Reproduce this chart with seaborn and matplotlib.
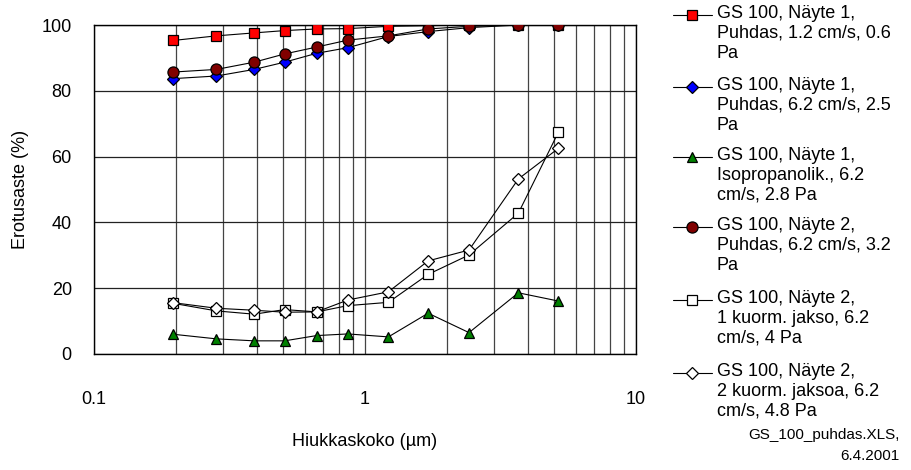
import numpy as np
import matplotlib
matplotlib.use("Agg")
import matplotlib.pyplot as plt
from matplotlib.lines import Line2D
from matplotlib.ticker import LogLocator, NullFormatter, FixedLocator
import seaborn as sns

# hiukkaskoko (um)
koko = [0.196, 0.283, 0.39, 0.505, 0.663, 0.864, 1.22, 1.71, 2.42, 3.68, 5.17]

n1_puhdas_12 = [95.3, 96.7, 97.6, 98.3, 98.8, 98.9, 99.6, 99.8, 100.0, 100.0, 100.0]
n1_puhdas_62 = [83.7, 84.5, 86.5, 88.7, 91.4, 93.1, 96.5, 98.0, 99.2, 100.0, 100.0]
n1_isoprop = [6.0, 4.6, 4.0, 4.0, 5.6, 6.1, 5.2, 12.4, 6.5, 18.6, 16.1]
n2_puhdas = [85.7, 86.5, 88.7, 91.2, 93.3, 95.4, 96.7, 98.8, 99.6, 100.0, 100.0]
n2_1jakso = [15.4, 13.1, 12.1, 13.5, 12.8, 14.7, 15.7, 24.2, 30.1, 42.8, 67.4]
n2_2jaksoa = [15.6, 13.9, 13.3, 12.7, 12.8, 16.4, 18.9, 28.3, 31.6, 53.2, 62.5]

labels = [
    "GS 100, Näyte 1,\nPuhdas, 1.2 cm/s, 0.6\nPa",
    "GS 100, Näyte 1,\nPuhdas, 6.2 cm/s, 2.5\nPa",
    "GS 100, Näyte 1,\nIsopropanolik., 6.2\ncm/s, 2.8 Pa",
    "GS 100, Näyte 2,\nPuhdas, 6.2 cm/s, 3.2\nPa",
    "GS 100, Näyte 2,\n1 kuorm. jakso, 6.2\ncm/s, 4 Pa",
    "GS 100, Näyte 2,\n2 kuorm. jaksoa, 6.2\ncm/s, 4.8 Pa",
]
sarjat = [n1_puhdas_12, n1_puhdas_62, n1_isoprop, n2_puhdas, n2_1jakso, n2_2jaksoa]
merkit = ["s", "D", "^", "o", "s", "D"]
varit = ["#ff0000", "#0000ff", "#008000", "#800000", "white", "white"]
koot = [7, 6.3, 7.5, 8, 7.5, 6.3]

sns.set_style("white")
plt.rcParams["font.family"] = ["Liberation Sans", "DejaVu Sans"]
plt.rcParams["text.color"] = "black"
plt.rcParams["axes.labelcolor"] = "black"
plt.rcParams["xtick.color"] = "black"
plt.rcParams["ytick.color"] = "black"

fig = plt.figure(figsize=(9.12, 4.70), dpi=100)
ax = fig.add_axes([94 / 912, 1 - 354 / 470, (636 - 94) / 912, (354 - 25) / 470])

for y, m, c, s in zip(sarjat, merkit, varit, koot):
    sns.lineplot(x=koko, y=y, ax=ax, color="black", linewidth=0.8,
                 marker=m, markersize=s, markerfacecolor=c,
                 markeredgecolor="black", markeredgewidth=0.9, zorder=3)

ax.set_xscale("log")
ax.set_xlim(0.1, 10)
ax.set_ylim(0, 100)
ax.set_xticks([0.1, 1, 10])
ax.set_xticklabels(["0.1", "1", "10"])
ax.xaxis.set_minor_locator(LogLocator(base=10, subs=np.arange(2, 10)))
ax.xaxis.set_minor_formatter(NullFormatter())
ax.set_yticks([0, 20, 40, 60, 80, 100])
ax.yaxis.set_minor_locator(FixedLocator([10, 30, 50, 70, 90]))

ax.grid(True, which="both", axis="x", color="#444444", linewidth=0.9)
ax.grid(True, which="major", axis="y", color="#222222", linewidth=0.9)
ax.set_axisbelow(True)

for sp in ax.spines.values():
    sp.set_color("black")
    sp.set_linewidth(1.0)

ax.tick_params(axis="x", which="major", direction="out", length=6, width=1,
               color="black", labelcolor="black", pad=21, labelsize=13)
ax.tick_params(axis="x", which="minor", length=0)
ax.tick_params(axis="y", which="major", direction="in", length=4, width=1,
               color="black", labelcolor="black", pad=16, labelsize=13)
ax.tick_params(axis="y", which="minor", direction="in", length=4, width=1,
               color="black")

ax.set_xlabel("Hiukkaskoko (µm)", fontsize=13, labelpad=18, color="black")
ax.set_ylabel("Erotusaste (%)", fontsize=13, labelpad=9, color="black")

# selite (legend), merkki ensimmäisen rivin kohdalla
rivit_y = [15, 87, 157, 227, 300, 373]
for yy, lab, m, c, s in zip(rivit_y, labels, merkit, varit, koot):
    yf = 1 - yy / 470
    fig.add_artist(Line2D([673 / 912, 692 / 912, 712 / 912], [yf, yf, yf],
                          transform=fig.transFigure, color="black", linewidth=0.8,
                          marker=m, markevery=[1], markersize=s,
                          markerfacecolor=c, markeredgecolor="black",
                          markeredgewidth=0.9))
    fig.text(717 / 912, 1 - (yy - 10) / 470, lab, fontsize=13, va="top",
             ha="left", linespacing=1.22, color="black")

fig.text(900 / 912, 1 - 428 / 470, "GS_100_puhdas.XLS,\n6.4.2001", fontsize=11,
         ha="right", va="top", linespacing=1.6, multialignment="right",
         color="black")

fig.savefig("out.png", dpi=100)
